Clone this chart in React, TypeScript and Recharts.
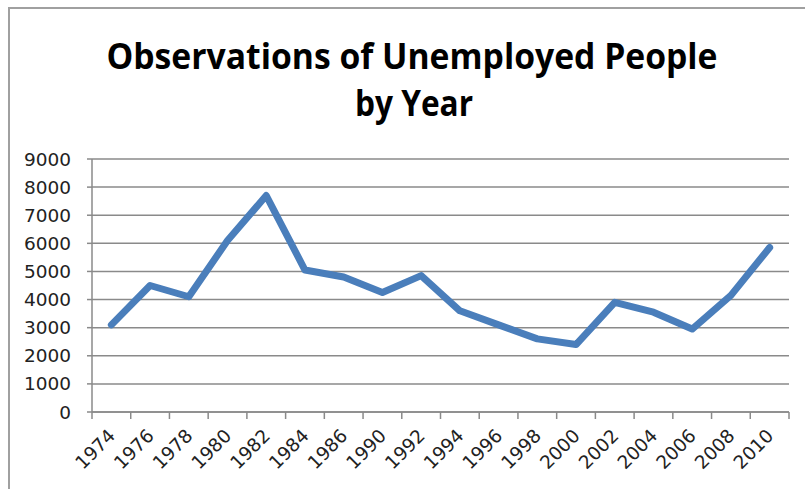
import React from "react";
import { LineChart, Line, XAxis, YAxis, CartesianGrid } from "recharts";

const years = [
  "1974", "1976", "1978", "1980", "1982", "1984", "1986", "1990", "1992",
  "1994", "1996", "1998", "2000", "2002", "2004", "2006", "2008", "2010",
];
const unemployed = [
  3100, 4500, 4100, 6100, 7700, 5050, 4800, 4250, 4850,
  3600, 3100, 2600, 2400, 3900, 3550, 2950, 4150, 5850,
];
const yTicks = [0, 1000, 2000, 3000, 4000, 5000, 6000, 7000, 8000, 9000];

const data = years.map((year, i) => ({ year, value: unemployed[i] }));

const AXIS = "#8a8a8a";
const BAND = 697 / years.length;

const YearTick = (props: any) => {
  const { x, y, payload, index } = props;
  const last = index === years.length - 1;
  return (
    <g>
      <line x1={x - BAND / 2} y1={y - 2} x2={x - BAND / 2} y2={y + 5} stroke={AXIS} strokeWidth={1.5} />
      {last && (
        <line x1={x + BAND / 2} y1={y - 2} x2={x + BAND / 2} y2={y + 5} stroke={AXIS} strokeWidth={1.5} />
      )}
      <text
        transform={`translate(${x + 5},${y + 23}) rotate(-45)`}
        textAnchor="end"
        fontSize={18.5}
        fontFamily="DejaVu Sans"
        fill="#222"
      >
        {payload.value}
      </text>
    </g>
  );
};

export default function App() {
  return (
    <div style={{ position: "absolute", left: 0, top: 0, width: 805, height: 489, background: "#fff", overflow: "hidden" }}>
      <div
        style={{
          position: "absolute",
          left: 8,
          top: 7,
          width: 805,
          height: 489,
          borderTop: "2px solid #a0a0a0",
          borderLeft: "2px solid #a0a0a0",
        }}
      />
      <svg width={805} height={140} style={{ position: "absolute", left: 0, top: 0 }}>
        <text
          x={412}
          y={69}
          textAnchor="middle"
          fontFamily="Open Sans"
          fontWeight="bold"
          fontSize={36}
          textLength={611}
          lengthAdjust="spacingAndGlyphs"
          fill="#000"
        >
          Observations of Unemployed People
        </text>
        <text
          x={414}
          y={116}
          textAnchor="middle"
          fontFamily="Open Sans"
          fontWeight="bold"
          fontSize={36}
          textLength={118}
          lengthAdjust="spacingAndGlyphs"
          fill="#000"
        >
          by Year
        </text>
      </svg>
      <div style={{ position: "absolute", left: 0, top: 0 }}>
        <LineChart width={805} height={489} data={data} margin={{ top: 159, right: 16, left: 32, bottom: 17 }}>
          <CartesianGrid vertical={false} stroke={AXIS} strokeWidth={1.5} />
          <XAxis
            dataKey="year"
            scale="band"
            interval={0}
            height={60}
            tickLine={false}
            tickSize={0}
            axisLine={{ stroke: AXIS, strokeWidth: 1.5 }}
            tick={<YearTick />}
          />
          <YAxis
            width={60}
            domain={[0, 9000]}
            ticks={yTicks}
            interval={0}
            tickSize={5}
            tickMargin={16}
            axisLine={{ stroke: AXIS, strokeWidth: 1.5 }}
            tickLine={{ stroke: AXIS, strokeWidth: 1.5 }}
            tick={{ fontSize: 18.5, fontFamily: "DejaVu Sans", fill: "#222" }}
          />
          <Line
            dataKey="value"
            type="linear"
            stroke="#4a7ebb"
            strokeWidth={7}
            strokeLinejoin="round"
            strokeLinecap="round"
            dot={false}
            isAnimationActive={false}
          />
        </LineChart>
      </div>
    </div>
  );
}
